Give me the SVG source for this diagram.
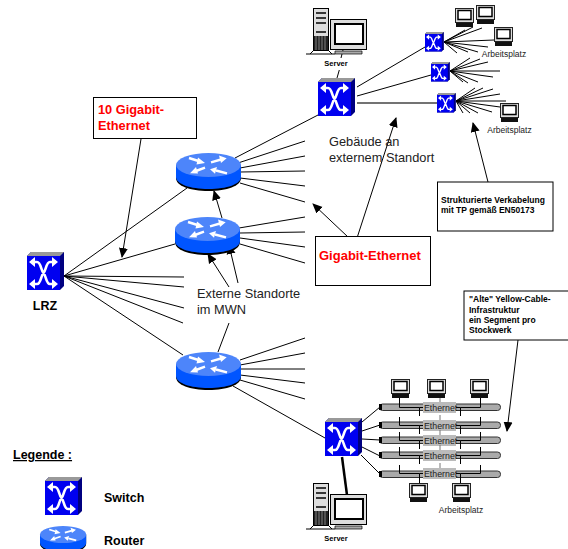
<svg xmlns="http://www.w3.org/2000/svg" width="568" height="549" viewBox="0 0 568 549">
<style>
text{font-family:"Liberation Sans",Arial,sans-serif;fill:#000}
.l{stroke:#000;stroke-width:1;fill:none}
.b{font-weight:bold}
.sm{font-size:8.5px;fill:#222}
.t{font-size:12.8px;fill:#222}
.r{fill:#f00}
.s{font-size:8.500px}
.lg{font-size:12.5px}
.box{fill:#fff;stroke:#000;stroke-width:1}
.eth{fill:#aaa;stroke:#333;stroke-width:1}
.en{font-size:8.800px;fill:#222}
.srvl{font-size:7.5px}
</style>
<defs>
<marker id="a" markerWidth="10" markerHeight="10" refX="9" refY="5" orient="auto" markerUnits="userSpaceOnUse"><path d="M0 0.5L10 5L0 9.5z" fill="#000"/></marker>
<g id="sw">
<path d="M0 4L4 0H37V34L33 38H0z" fill="#000080"/>
<path d="M0 4L4 0H37L33 4z" fill="#999"/>
<rect x="0" y="4" width="33" height="34" fill="#0000f0"/>
<path d="M6 10H10C14 10 14 19 16.500 21C19 19 19 10 23 10H27M6 32H10C14 32 14 23 16.500 21C19 23 19 32 23 32H27" fill="none" stroke="#fff" stroke-width="2.600"/>
<path d="M2 10L8 5V15zM31 10L25 5V15zM2 32L8 27V37zM31 32L25 27V37z" fill="#fff"/>
</g>
<g id="rt">
<path d="M0 12V25C0 33 14 38 32.500 38S65 33 65 25V12z" fill="#000"/>
<path d="M0 12V24C0 31 14 36 32.500 36S65 31 65 24V12z" fill="#0055ff"/>
<ellipse cx="32.500" cy="12" rx="32.500" ry="12" fill="#4d85fa"/>
<path d="M13 5L24 8.500M35 9.300L45 6.500M29 14.700L20 18M51 20.300L40 17.500" stroke="#fff" stroke-width="2.400"/>
<path d="M29 10L22 4.500L20.500 11.500zM50.700 5.300L43 2.500L45 10zM14 20.300L20 14L22 20.500zM34 16.300L41 14L39 20.800z" fill="#fff"/>
</g>
<g id="pc">
<rect x="0.500" y="0.500" width="18" height="14" fill="#ddd" stroke="#222"/>
<rect x="3" y="2.500" width="13" height="9" fill="#fff" stroke="#000" stroke-width="1.500"/>
<rect x="1" y="15" width="17" height="4" fill="#111"/>
</g>
<g id="srv">
<rect x="7.500" y="0.500" width="15" height="42" fill="#ddd" stroke="#000"/>
<path d="M10 5H20M10 10H20M10 15H20M10 24H20" stroke="#000" stroke-width="1.500"/>
<rect x="8" y="28" width="14" height="14" fill="#222"/>
<path d="M10 28V42M13 28V42M16 28V42M19 28V42" stroke="#aaa" stroke-width=".7"/>
<path d="M0 46H29M4 46L8 42M26 46L22 42" stroke="#000"/>
<rect x="24.500" y="11.500" width="36" height="30" fill="#ddd" stroke="#000"/>
<rect x="29" y="16" width="28" height="20" fill="#fff" stroke="#000" stroke-width="2"/>
<path d="M29 46H56V43H29z" fill="#aaa" stroke="#000" stroke-width=".7"/>
</g>
</defs>

<g id="connectors" class="l">
<path d="M64 276L187 188M64 276L175 244M64 276L184 277M64 276L184 287M64 276L184 308M64 276L183 323M64 276L183 355"/>
<path d="M235 158L318 115M238 163L305 141M240 168L305 156M240 172L305 171M240 178L305 186M240 183L305 202"/>
<path d="M239 228L305 217M240 233L305 232M240 238L305 247M240 244L305 263"/>
<path d="M240 360L305 338M240 365L305 353M240 369L305 369M240 375L305 383M240 380L305 399"/>
<path d="M233 386L325 438"/>
<path d="M343 50L341 58M339.300 70L337 78"/>
<path d="M357 87L425 47M357 96L431 75"/>
<path d="M357 103H437" stroke="#444" stroke-width="1.300"/>
<path d="M444 42L465 30M444 42L473 27M444 42L482 28M444 42L494 40M444 42L488 47M444 42L478 52M444 42L468 52M444 42L457 53"/>
<path d="M450 71L470 58M450 71L480 59M450 71L488 62M450 71L500 71M450 71L493 77M450 71L478 82M450 71L468 83M450 71L463 82"/>
<path d="M456 101L475 88M456 101L483 88M456 101L493 89M456 101L500 94M456 101L506 101M456 101L500 107M456 101L492 112M456 101L478 113M456 101L470 113M456 101L463 113"/>
<path d="M362 422L380 407M362 431L380 425M362 439L380 440M362 447L380 456M361 455L380 474"/>
<path d="M342 457L347 495" stroke-width="2.500"/>
</g>

<g id="ethernet">
<rect x="379.500" y="404" width="121" height="6.500" rx="3" class="eth"/>
<rect x="379.500" y="422" width="121" height="6.500" rx="3" class="eth"/>
<rect x="379.500" y="437" width="121" height="6.500" rx="3" class="eth"/>
<rect x="379.500" y="452" width="121" height="6.500" rx="3" class="eth"/>
<rect x="379.500" y="471" width="121" height="6.500" rx="3" class="eth"/>
<g fill="#000"><rect x="379" y="404" width="3" height="6"/><rect x="379" y="422" width="3" height="6"/><rect x="379" y="437" width="3" height="6"/><rect x="379" y="452" width="3" height="6"/><rect x="379" y="471" width="3" height="6"/></g>
<g fill="#bbb">
<rect x="423" y="402" width="33" height="11"/><rect x="423" y="420" width="33" height="11"/><rect x="423" y="435" width="33" height="11"/><rect x="423" y="450" width="33" height="11"/><rect x="423" y="468" width="33" height="11"/>
</g>
<g class="l">
<path d="M399.500 398V407.500H419.500M480.500 398V407.500H460.500M419.500 416V407.500H423M460.500 416V407.500H456"/>
<path d="M399.500 417V425.500H419.500M480.500 417V425.500H460.500M419.500 434V425.500H423M460.500 434V425.500H456"/>
<path d="M399.500 432V440.500H419.500M480.500 432V440.500H460.500M419.500 449V440.500H423M460.500 449V440.500H456"/>
<path d="M399.500 447V455.500H419.500M480.500 447V455.500H460.500M419.500 464V455.500H423M460.500 464V455.500H456"/>
<path d="M399.500 465V473.500H419.500M480.500 465V473.500H460.500M419.500 484V473.500H423M460.500 484V473.500H456"/>
<path d="M440 397V402M440 415V420M440 430V435M440 445V450M440 463V468" stroke="#777"/>
</g>
<text x="424" y="411" class="en">Ethernet</text>
<text x="424" y="429" class="en">Ethernet</text>
<text x="424" y="444" class="en">Ethernet</text>
<text x="424" y="459" class="en">Ethernet</text>
<text x="424" y="477" class="en">Ethernet</text>
</g>

<g id="arrows" class="l">
<path d="M141 139L122 257" marker-end="url(#a)"/>
<path d="M222 218L214 191" marker-end="url(#a)"/>
<path d="M229 287L208 254" marker-end="url(#a)"/>
<path d="M238 283L229 245" marker-end="url(#a)"/>
<path d="M229 323L218 352"/>
<path d="M357 238L396 118" marker-end="url(#a)"/>
<path d="M348 237L313 204" marker-end="url(#a)"/>
<path d="M488 182L473 123" marker-end="url(#a)"/>
<path d="M518 340L507 431" marker-end="url(#a)"/>
</g>

<g id="lrz"><use href="#sw" x="27" y="252"/><text x="45" y="310" text-anchor="middle" class="b lg">LRZ</text></g>
<g id="router1"><use href="#rt" x="176" y="153"/></g>
<g id="router2"><use href="#rt" x="175" y="217"/></g>
<g id="router3"><use href="#rt" x="176" y="352"/></g>
<g id="switch-top"><use href="#sw" x="318" y="78"/></g>
<g id="switch-bottom"><use href="#sw" x="325" y="418"/></g>
<g id="sw-a"><use href="#sw" transform="translate(425 32) scale(.51)"/></g>
<g id="sw-b"><use href="#sw" transform="translate(431 62) scale(.51)"/></g>
<g id="sw-c"><use href="#sw" transform="translate(437 93) scale(.51)"/></g>
<g id="server-top"><use href="#srv" x="306" y="8"/><text x="336" y="66" text-anchor="middle" class="b srvl">Server</text></g>
<g id="server-bottom"><use href="#srv" x="306" y="483"/><text x="336" y="541" text-anchor="middle" class="b srvl">Server</text></g>
<g id="pcs">
<use href="#pc" x="455" y="8"/><use href="#pc" x="476" y="5"/><use href="#pc" x="494" y="27"/>
<use href="#pc" x="500" y="103"/>
<use href="#pc" x="391" y="379"/><use href="#pc" x="427" y="379"/><use href="#pc" x="470" y="379"/>
<use href="#pc" x="409" y="483"/><use href="#pc" x="452" y="483"/>
<text x="504" y="57" text-anchor="middle" class="sm">Arbeitsplatz</text>
<text x="509.500" y="133" text-anchor="middle" class="sm">Arbeitsplatz</text>
<text x="461" y="513" text-anchor="middle" class="sm">Arbeitsplatz</text>
</g>

<g id="label-10g"><rect x="93.500" y="97.500" width="103" height="41" class="box"/><text x="98" y="114" class="b t r">10 Gigabit-</text><text x="98" y="130" class="b t r">Ethernet</text></g>
<g id="label-geb"><text x="329" y="146" class="t">Gebäude an</text><text x="329" y="162" class="t">externem Standort</text></g>
<g id="label-verk"><rect x="437.500" y="182" width="115.500" height="49" class="box"/><text x="441" y="203" class="b s">Strukturierte Verkabelung</text><text x="441" y="213" class="b s">mit TP gemäß EN50173</text></g>
<g id="label-gig"><rect x="315.500" y="236.500" width="115" height="49" class="box"/><text x="319" y="260" class="b r" style="font-size:13px">Gigabit-Ethernet</text></g>
<g id="label-ext"><rect x="194" y="287" width="110" height="34" fill="#fff"/><text x="197" y="298" class="t">Externe Standorte</text><text x="197" y="314" class="t">im MWN</text></g>
<g id="label-yellow"><rect x="464" y="291" width="106" height="49" class="box"/><text x="469" y="302" class="b s">"Alte" Yellow-Cable-</text><text x="469" y="313" class="b s">Infrastruktur</text><text x="469" y="323" class="b s">ein Segment pro</text><text x="469" y="333" class="b s">Stockwerk</text></g>

<g id="legend">
<text x="13" y="459" class="b lg" text-decoration="underline">Legende :</text>
<use href="#sw" x="45" y="477"/>
<text x="104" y="502" class="b lg">Switch</text>
<use href="#rt" transform="translate(40 526) scale(.71)"/>
<text x="104" y="545" class="b lg">Router</text>
</g>
</svg>
